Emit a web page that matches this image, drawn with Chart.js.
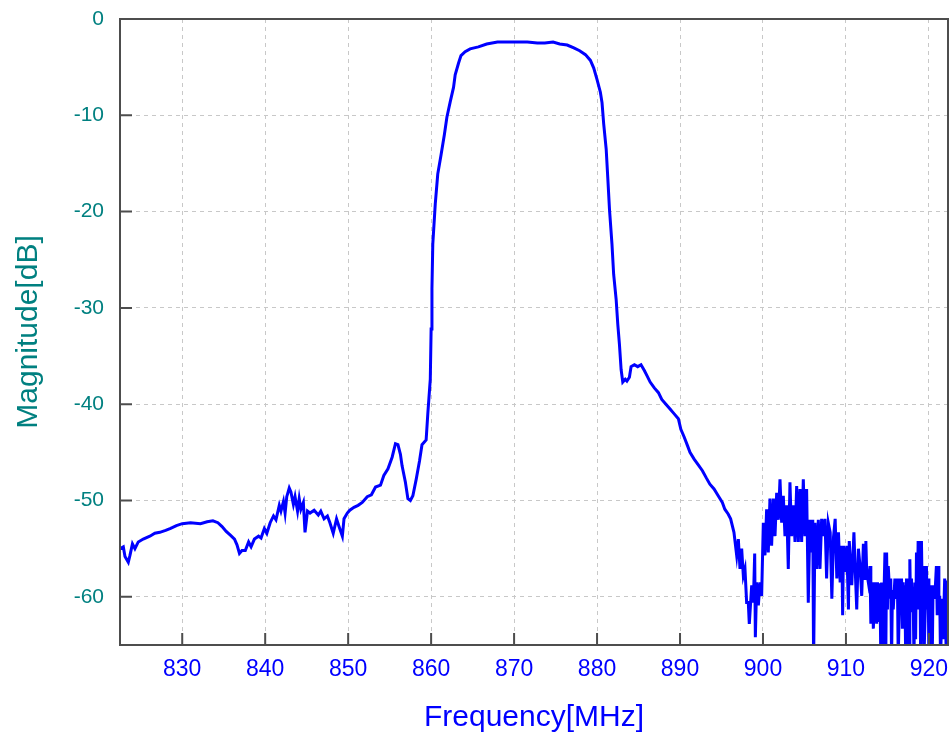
<!DOCTYPE html>
<html>
<head>
<meta charset="utf-8">
<script src="https://cdn.jsdelivr.net/npm/chart.js@4"></script>
<style>
  body { margin: 0; background: #fff; }
  #wrap { width: 951px; height: 737px; position: relative; }
</style>
</head>
<body>
<div id="wrap"><canvas id="myChart"></canvas></div>
<script>
// axis settings
const xMin = 822.5;
const xMax = 922.3;
const yMin = -65;
const yMax = 0;
const xTicks = [830, 840, 850, 860, 870, 880, 890, 900, 910, 920];
const yTicks = [-60, -50, -40, -30, -20, -10, 0];

// trace, [MHz, dB]
const lowerStopband = [
  [822.5, -55.0], [822.9, -54.8], [823.1, -55.8], [823.5, -56.4], [823.7, -55.7],
  [824.0, -54.5], [824.3, -55.0], [824.7, -54.3], [825.3, -54.0], [826.1, -53.7],
  [826.7, -53.4], [827.3, -53.3], [828.0, -53.1], [828.6, -52.9], [829.3, -52.6],
  [830.0, -52.4], [831.0, -52.3], [832.2, -52.4], [833.0, -52.2], [833.7, -52.1],
  [834.3, -52.3], [834.8, -52.7], [835.3, -53.2], [835.8, -53.6], [836.3, -54.0],
  [836.6, -54.6], [836.9, -55.5], [837.2, -55.2], [837.6, -55.2], [838.0, -54.3],
  [838.3, -54.8], [838.7, -54.0], [839.2, -53.7], [839.5, -53.9], [839.9, -52.9],
  [840.2, -53.4], [840.6, -52.3], [841.0, -51.6], [841.3, -52.0], [841.7, -50.5],
  [841.9, -51.1], [842.2, -50.1], [842.4, -51.3], [842.6, -49.6], [842.9, -48.7],
  [843.1, -49.1], [843.4, -50.4], [843.6, -49.6], [843.9, -51.1], [844.1, -49.8],
  [844.3, -50.9], [844.6, -50.2], [844.8, -53.3], [845.1, -51.1], [845.4, -51.3],
  [845.9, -51.0], [846.4, -51.5], [846.7, -51.1], [847.1, -51.9], [847.5, -51.6],
  [847.8, -52.3], [848.2, -53.4], [848.6, -51.9], [848.9, -52.7], [849.3, -53.7],
  [849.5, -51.9], [849.9, -51.3], [850.2, -51.0], [850.7, -50.7], [851.2, -50.5],
  [851.7, -50.2], [852.3, -49.6], [852.8, -49.4], [853.3, -48.6], [853.9, -48.4],
  [854.3, -47.4], [854.8, -46.7], [855.3, -45.5], [855.7, -44.1], [856.0, -44.2],
  [856.3, -45.2], [856.5, -46.4], [856.9, -48.1], [857.2, -49.8], [857.5, -50.0],
  [857.8, -49.5], [858.2, -47.8], [858.6, -45.9], [858.9, -44.2], [859.4, -43.7],
  [859.6, -41.0], [859.9, -37.4]
];

const passband = [
  [860.0, -32.2], [860.1, -28.0], [860.2, -23.4], [860.5, -19.2], [860.8, -16.1],
  [861.2, -14.1], [861.6, -12.0], [861.9, -10.2], [862.3, -8.6], [862.7, -7.1],
  [862.9, -5.8], [863.3, -4.6], [863.6, -3.8], [864.1, -3.4], [864.7, -3.1],
  [865.7, -2.9], [866.7, -2.6], [868.0, -2.4], [869.2, -2.4], [870.4, -2.4],
  [871.6, -2.4], [872.8, -2.5], [873.7, -2.5], [874.7, -2.4], [875.5, -2.6],
  [876.4, -2.7], [877.2, -3.0], [877.9, -3.3], [878.6, -3.7], [879.2, -4.3],
  [879.6, -5.1], [880.0, -6.3], [880.4, -7.6], [880.6, -8.7], [880.8, -10.9],
  [881.1, -13.5], [881.3, -16.6], [881.5, -19.8], [881.8, -23.4], [882.0, -26.5],
  [882.3, -29.1], [882.5, -31.7], [882.7, -33.8], [882.9, -36.4]
];

const upperStopband = [
  [883.1, -37.7], [883.4, -37.4], [883.6, -37.6], [883.9, -37.2], [884.1, -36.1],
  [884.5, -35.9], [884.9, -36.1], [885.3, -35.9], [885.7, -36.5], [886.0, -37.0],
  [886.4, -37.7], [886.9, -38.3], [887.4, -38.8], [887.8, -39.5], [888.3, -40.0],
  [888.8, -40.5], [889.3, -41.0], [889.8, -41.5], [890.1, -42.6], [890.5, -43.4],
  [890.9, -44.3], [891.2, -45.0], [891.7, -45.7], [892.2, -46.3], [892.7, -46.9],
  [893.2, -47.7], [893.6, -48.3], [894.1, -48.8], [894.6, -49.5], [895.1, -50.2],
  [895.4, -50.9], [895.8, -51.4], [896.1, -51.9], [896.5, -53.3]
];

// noisy floor above 897 MHz, values under -65 dB run off the plot
const noiseFloor = [
  [896.83, -55.7], [897.03, -54.0], [897.23, -57.1], [897.43, -55.0], [897.63, -57.8],
  [897.83, -57.1], [898.03, -60.6], [898.23, -60.6], [898.35, -62.8], [898.64, -58.8],
  [898.84, -60.6], [899.0, -55.5], [899.08, -64.2], [899.24, -58.5], [899.44, -60.9],
  [899.64, -58.5], [899.84, -59.9], [900.04, -52.3], [900.24, -55.7], [900.44, -50.9],
  [900.64, -55.4], [900.84, -49.8], [901.04, -54.7], [901.25, -49.8], [901.45, -53.7],
  [901.65, -49.2], [901.85, -52.0], [902.05, -47.8], [902.25, -52.3], [902.45, -49.5],
  [902.65, -53.7], [902.85, -50.5], [903.05, -57.1], [903.25, -48.1], [903.45, -53.7],
  [903.66, -50.5], [903.86, -54.3], [904.06, -48.5], [904.26, -54.3], [904.46, -48.8],
  [904.66, -54.3], [904.86, -47.8], [905.06, -53.7], [905.26, -48.8], [905.46, -60.6],
  [905.66, -52.0], [905.86, -55.4], [906.0, -52.0], [906.1, -67.0], [906.27, -52.3],
  [906.47, -57.1], [906.67, -52.0], [906.87, -57.1], [907.07, -51.9], [907.27, -53.7],
  [907.47, -51.9], [907.67, -58.1], [907.87, -52.3],
  [908.1, -53.3], [908.3, -60.2], [908.5, -53.8], [908.7, -51.9], [908.9, -58.1],
  [909.1, -53.3], [909.3, -58.5], [909.5, -54.7], [909.6, -61.9], [909.7, -54.7],
  [909.9, -57.4], [910.1, -54.7], [910.3, -61.3], [910.4, -54.2], [910.7, -58.8],
  [910.96, -53.3], [911.1, -56.8], [911.3, -61.3], [911.5, -55.0], [911.7, -56.8],
  [911.9, -59.9], [912.1, -54.5], [912.3, -58.1], [912.4, -54.2], [912.5, -57.4],
  [912.7, -58.5], [912.9, -56.8], [913.0, -62.8], [913.2, -58.5], [913.3, -63.3],
  [913.5, -58.5], [913.7, -62.8], [913.8, -58.5], [913.9, -62.6], [914.1, -58.6],
  [914.2, -66.5], [914.3, -58.5], [914.4, -66.5], [914.7, -55.4], [914.8, -66.5],
  [914.9, -55.4], [915.0, -61.3], [915.1, -56.8], [915.3, -60.2], [915.4, -58.1],
  [915.5, -66.5], [915.6, -59.3], [915.7, -61.3], [915.9, -58.1], [916.1, -60.2],
  [916.2, -58.1], [916.3, -66.5], [916.5, -58.1], [916.6, -61.6], [916.7, -58.1],
  [916.8, -63.3], [916.9, -58.5], [917.0, -61.6], [917.1, -58.8], [917.2, -66.5],
  [917.3, -58.1], [917.4, -60.2], [917.5, -58.1], [917.6, -66.5], [917.7, -56.1],
  [917.8, -61.6], [917.9, -58.1], [918.0, -61.3], [918.1, -60.2], [918.2, -66.5],
  [918.3, -58.5], [918.4, -64.4], [918.5, -55.4], [918.6, -61.3], [918.7, -54.2],
  [918.8, -58.5], [918.9, -54.2], [919.0, -66.5], [919.1, -54.2], [919.2, -60.2],
  [919.3, -56.8], [919.4, -66.5], [919.7, -56.8], [919.8, -61.3], [919.9, -58.1],
  [920.0, -66.5], [920.1, -58.8], [920.2, -60.0], [920.3, -58.8], [920.4, -66.5],
  [920.5, -58.8], [920.7, -60.2], [920.9, -56.8], [921.0, -61.9], [921.1, -56.8],
  [921.2, -61.3], [921.3, -59.9], [921.4, -66.5], [921.6, -60.2], [921.7, -64.4],
  [921.9, -58.1], [922.1, -66.5], [922.2, -58.3], [922.3, -61.9]
];

const trace = lowerStopband.concat(passband, upperStopband, noiseFloor)
  .map(([f, db]) => ({ x: f, y: db }));

// frame around the plot and short ticks pointing inwards
const framePlugin = {
  id: "frame",
  afterDatasetsDraw(chart) {
    const { ctx, chartArea: a, scales } = chart;
    ctx.save();
    ctx.strokeStyle = "#4d4d4d";
    ctx.lineWidth = 2;
    ctx.beginPath();
    xTicks.forEach((v) => {
      const px = scales.x.getPixelForValue(v);
      ctx.moveTo(px, a.bottom);
      ctx.lineTo(px, a.bottom - 12);
    });
    yTicks.forEach((v) => {
      const py = scales.y.getPixelForValue(v);
      ctx.moveTo(a.left, py);
      ctx.lineTo(a.left + 12, py);
    });
    ctx.stroke();
    ctx.strokeRect(a.left, a.top, a.right - a.left, a.bottom - a.top);
    ctx.restore();
  },
};

const ctx = document.getElementById("myChart");
new Chart(ctx, {
  type: "line",
  data: {
    datasets: [
      {
        label: "Magnitude",
        data: trace,
        borderColor: "#0000ff",
        borderWidth: 3,
        pointRadius: 0,
        tension: 0,
        fill: false,
      },
    ],
  },
  options: {
    responsive: true,
    maintainAspectRatio: false,
    animation: false,
    layout: { padding: { top: 19, right: 3, left: 0, bottom: 0 } },
    plugins: { legend: { display: false }, tooltip: { enabled: false } },
    scales: {
      x: {
        type: "linear",
        min: xMin,
        max: xMax,
        afterBuildTicks: (s) => { s.ticks = xTicks.map((v) => ({ value: v })); },
        afterFit: (s) => {
          s.height = 92;
          s.paddingLeft = 0;
          s.paddingRight = 0;
        },
        grid: { color: "#c8c8c8", lineWidth: 1, drawTicks: false },
        border: { display: false, dash: [4, 4] },
        ticks: {
          padding: 11,
          maxRotation: 0,
          color: "#0000ff",
          font: { family: "Liberation Sans, Arial, sans-serif", size: 23 },
        },
        title: {
          display: true,
          text: "Frequency[MHz]",
          color: "#0000ff",
          padding: { top: 0, bottom: 1 },
          font: { family: "Liberation Sans, Arial, sans-serif", size: 30 },
        },
      },
      y: {
        min: yMin,
        max: yMax,
        afterBuildTicks: (s) => { s.ticks = yTicks.map((v) => ({ value: v })); },
        afterFit: (s) => {
          s.width = 120;
          s.paddingTop = 0;
          s.paddingBottom = 0;
        },
        grid: { color: "#c8c8c8", lineWidth: 1, drawTicks: false },
        border: { display: false, dash: [4, 4] },
        ticks: {
          padding: 16,
          color: "#008080",
          font: { family: "Liberation Sans, Arial, sans-serif", size: 21 },
        },
        title: {
          display: true,
          text: "Magnitude[dB]",
          color: "#008080",
          padding: { top: 11, bottom: 0 },
          font: { family: "Liberation Sans, Arial, sans-serif", size: 30 },
        },
      },
    },
  },
  plugins: [framePlugin],
});
</script>
</body>
</html>
